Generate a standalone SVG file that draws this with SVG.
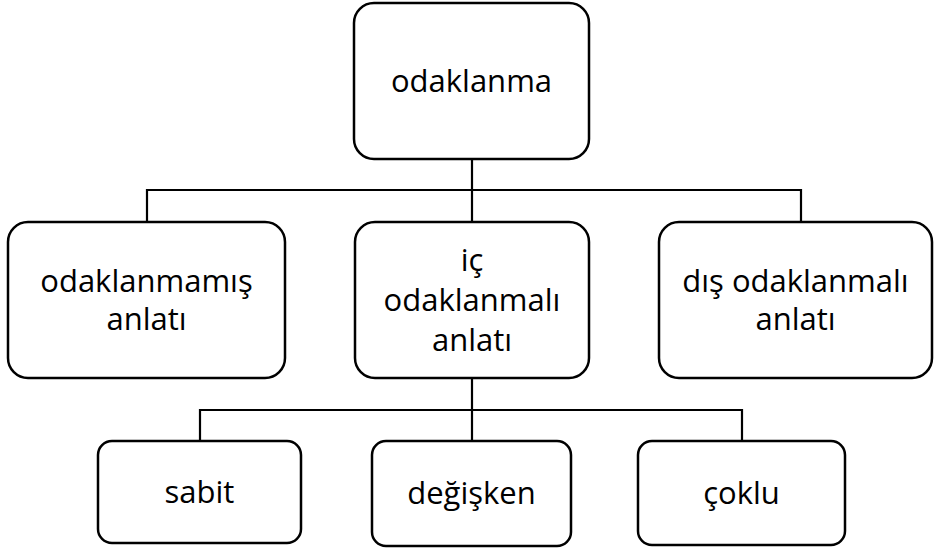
<svg xmlns="http://www.w3.org/2000/svg" width="936" height="550" viewBox="0 0 936 550">
  <style>
    .box { fill: #ffffff; stroke: #000000; stroke-width: 2.5; }
    .conn { fill: none; stroke: #000000; stroke-width: 2.2; }
    .label { font-family: "Open Sans", "Noto Sans", sans-serif; font-size: 31px; fill: #000000; text-anchor: middle; }
  </style>

  <!-- tree connectors -->
  <g id="connectors">
    <path class="conn" d="M472 159 V190 M147 222 V190 H801 V222 M472 190 V222"/>
    <path class="conn" d="M472 378 V410 M200 441 V410 H742 V441 M472 410 V441"/>
  </g>

  <!-- root -->
  <g id="node-odaklanma">
    <rect class="box" x="354" y="3" width="235" height="156" rx="20" ry="20"/>
    <text class="label" x="471.5" y="92">odaklanma</text>
  </g>

  <!-- second level -->
  <g id="node-odaklanmamis">
    <rect class="box" x="8" y="222" width="277" height="156" rx="20" ry="20"/>
    <text class="label" x="146.5" y="292">odaklanmamış</text>
    <text class="label" x="146.5" y="330">anlatı</text>
  </g>

  <g id="node-ic">
    <rect class="box" x="355" y="222" width="234" height="156" rx="20" ry="20"/>
    <text class="label" x="472" y="271">iç</text>
    <text class="label" x="472" y="311">odaklanmalı</text>
    <text class="label" x="472" y="351">anlatı</text>
  </g>

  <g id="node-dis">
    <rect class="box" x="659" y="222" width="273" height="156" rx="20" ry="20"/>
    <text class="label" x="795.5" y="292">dış odaklanmalı</text>
    <text class="label" x="795.5" y="330">anlatı</text>
  </g>

  <!-- third level -->
  <g id="node-sabit">
    <rect class="box" x="98" y="441" width="203" height="102" rx="14" ry="14"/>
    <text class="label" x="199.5" y="503">sabit</text>
  </g>

  <g id="node-degisken">
    <rect class="box" x="372" y="441" width="199" height="105" rx="14" ry="14"/>
    <text class="label" x="471.5" y="504">değişken</text>
  </g>

  <g id="node-coklu">
    <rect class="box" x="638" y="441" width="207" height="104" rx="14" ry="14"/>
    <text class="label" x="741.5" y="504">çoklu</text>
  </g>
</svg>
